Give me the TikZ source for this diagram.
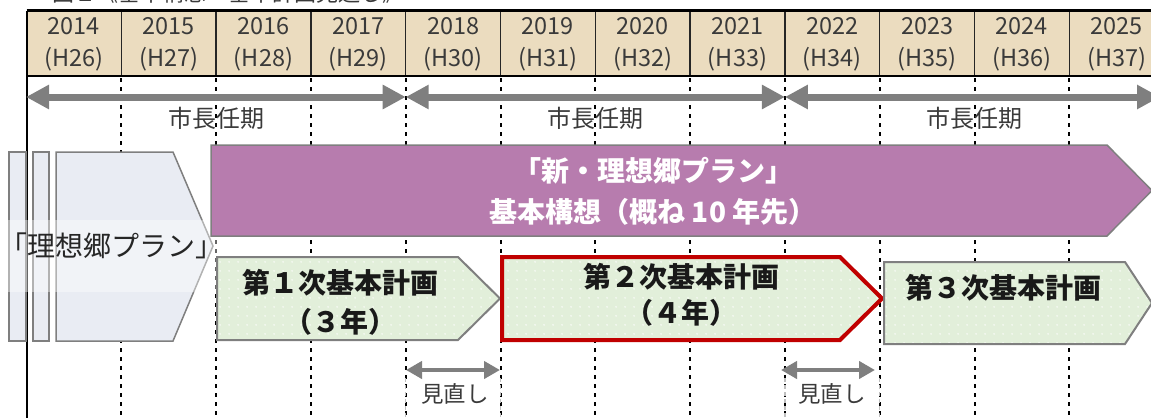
\documentclass[tikz,border=0pt]{standalone}
\usepackage{fontspec}
\setmainfont{Noto Sans CJK JP}
\usetikzlibrary{arrows.meta,patterns.meta}
\definecolor{hdrfill}{HTML}{EBDCBF}
\definecolor{purp}{HTML}{B77CAE}
\definecolor{planfill}{HTML}{E2EFDA}
\definecolor{oldfill}{HTML}{E9ECF3}
\definecolor{redline}{HTML}{C00000}
\definecolor{arrgray}{HTML}{7F7F7F}
\definecolor{txtgray}{HTML}{3A3A3A}
\tikzdeclarepattern{name=wdots, type=uncolored,
  bounding box={(0pt,0pt) and (9pt,9pt)}, tile size={(9pt,9pt)},
  code={\fill (4.5pt,4.5pt) circle (0.9pt);}}
\tikzset{
  hdrtext/.style={text=txtgray, align=center, font=\fontsize{23.5}{32}\selectfont, inner sep=0pt},
  vdot/.style={black, line width=2pt, dash pattern=on 4pt off 5pt},
  termarrow/.style={arrgray, line width=7pt, {Triangle[length=23pt,width=23pt]}-{Triangle[length=23pt,width=23pt]}},
  reviewarrow/.style={arrgray, line width=4.5pt, {Triangle[length=16pt,width=17pt]}-{Triangle[length=16pt,width=17pt]}},
  termlabel/.style={text=txtgray, font=\fontsize{24}{28}\selectfont, inner sep=0pt},
  reviewlabel/.style={text=txtgray, font=\fontsize{22.5}{26}\selectfont, inner sep=0pt},
  oldshape/.style={fill=oldfill, draw=arrgray, line width=1.5pt},
  planshape/.style={preaction={fill=planfill}, pattern=wdots, pattern color=white, draw=arrgray, line width=2pt},
  plantext/.style={text=black!90, align=center, font=\bfseries, inner sep=0pt},
}
\begin{document}
\begin{tikzpicture}[x=1pt,y=-1pt]
\useasboundingbox (0,0) rectangle (1151,418);
% title (cut off at top)
\node[anchor=base west, text=txtgray, font=\fontsize{22}{26}\selectfont, inner sep=0pt] (title) at (52,1) {図１《基本構想・基本計画見通し》};
% header
\fill[hdrfill] (26.5,10.5) rectangle (1170,76);
\foreach \k in {1,...,11} {
  \draw[black!85, line width=1.3pt] ({26.5+94.8*\k},10.5) -- ({26.5+94.8*\k},76);
}
\draw[black, line width=2.5pt] (26.5,10.5) -- (1170,10.5);
\draw[black, line width=2.5pt] (26.5,76) -- (1170,76);
\foreach \k in {0,...,11} {
  \pgfmathtruncatemacro\yr{2014+\k}
  \pgfmathtruncatemacro\hy{26+\k}
  \node[hdrtext] (yr\k) at ({26.5+94.8*(\k+0.5)},44) {\yr\\(H\hy)};
}
% vertical dotted lines
\foreach \k in {1,...,11} {
  \draw[vdot] ({26.5+94.8*\k},78) -- ({26.5+94.8*\k},418);
}
\draw[black, line width=2pt] (26.5,10.5) -- (26.5,418);
% mayor terms
\coordinate (t0) at (26,97);
\coordinate (t1) at (405.7,97);
\coordinate (t2) at (784.9,97);
\coordinate (t3) at (1160,97);
\draw[termarrow] (t0) -- (t1);
\draw[termarrow] (t1) -- (t2);
\draw[termarrow] (t2) -- (t3);
\node[termlabel] (term1) at (216,118) {市長任期};
\node[termlabel] (term2) at (595,118) {市長任期};
\node[termlabel] (term3) at (974,118) {市長任期};
% old plan
\draw[oldshape] (9,152) rectangle (26,341);
\draw[oldshape] (33,152) rectangle (49,341);
\draw[oldshape] (56,152) -- (173,152) -- (213,246) -- (173,341) -- (56,341) -- cycle;
\fill[white, opacity=0.4] (0,220) rectangle (267,292);
\node[text=black!85, font=\fontsize{28}{32}\selectfont, inner sep=0pt] (old) at (111,246) {「理想郷プラン」};
% new vision
\draw[fill=purp, draw=arrgray, line width=1.5pt] (211,145) -- (1107,145) -- (1152,190.5) -- (1107,236) -- (211,236) -- cycle;
\node[text=white, align=center, font=\bfseries\fontsize{28}{41}\selectfont, inner sep=0pt] (vision) at (653,191.5) {「新・理想郷プラン」\\基本構想（概ね 10 年先）};
% basic plans
\draw[planshape] (217,257) -- (458,257) -- (500,298.5) -- (458,340) -- (217,340) -- cycle;
\node[plantext, font=\bfseries\fontsize{28}{39}\selectfont] (plan1) at (340,302.5) {第１次基本計画\\（３年）};
\draw[planshape, draw=redline, line width=4pt, line join=miter] (502,257) -- (840,257) -- (882,298.5) -- (840,340) -- (502,340) -- cycle;
\node[plantext, font=\bfseries\fontsize{28}{36}\selectfont] (plan2) at (681,295) {第２次基本計画\\（４年）};
\draw[planshape] (884,262) -- (1125,262) -- (1152,303) -- (1125,344) -- (884,344) -- cycle;
\node[plantext, font=\bfseries\fontsize{28}{32}\selectfont] (plan3) at (1003,288) {第３次基本計画};
% reviews
\fill[white] (407,378) rectangle (499,418);
\fill[white] (786,378) rectangle (878.5,418);
\draw[black!25, line width=1.5pt, dash pattern=on 4pt off 3pt] (405.7,378) -- (405.7,418) (500.5,378) -- (500.5,418);
\draw[black!25, line width=1.5pt, dash pattern=on 4pt off 3pt] (784.9,378) -- (784.9,418) (879.7,378) -- (879.7,418);
\coordinate (r1a) at (406,370);
\coordinate (r1b) at (500,370);
\coordinate (r2a) at (781,370);
\coordinate (r2b) at (875,370);
\draw[reviewarrow] (r1a) -- (r1b);
\draw[reviewarrow] (r2a) -- (r2b);
\node[reviewlabel] (rev1) at (455,394) {見直し};
\node[reviewlabel] (rev2) at (832,394) {見直し};
\end{tikzpicture}
\end{document}
